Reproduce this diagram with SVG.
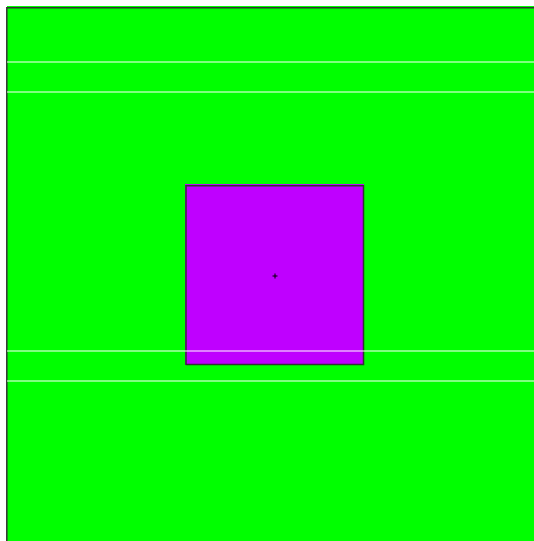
<svg xmlns="http://www.w3.org/2000/svg" width="534" height="541" viewBox="0 0 534 541">
<style>
.edge{stroke:#333;stroke-width:1.5;fill:none}
.wl{stroke:#fff;stroke-width:1.2}
</style>
<rect width="534" height="541" fill="#fff"/>
<g id="field">
<rect x="7" y="6" width="527" height="535" fill="#00ff00"/>
<path class="edge" d="M6.8 541V7.8H534"/>
</g>
<g id="box">
<rect x="185" y="184" width="179" height="181" fill="#bf00ff"/>
<path class="edge" d="M186 365V185.8H363.5V364.5H186" stroke="#222"/>
<path d="M272.5 276h5M275 273.5v5" stroke="#000" stroke-width="1"/>
</g>
<g id="lines">
<line class="wl" x1="7" y1="62" x2="534" y2="62"/>
<line class="wl" x1="7" y1="92" x2="534" y2="92"/>
<line class="wl" x1="7" y1="351" x2="534" y2="351"/>
<line class="wl" x1="7" y1="381" x2="534" y2="381"/>
</g>
</svg>
